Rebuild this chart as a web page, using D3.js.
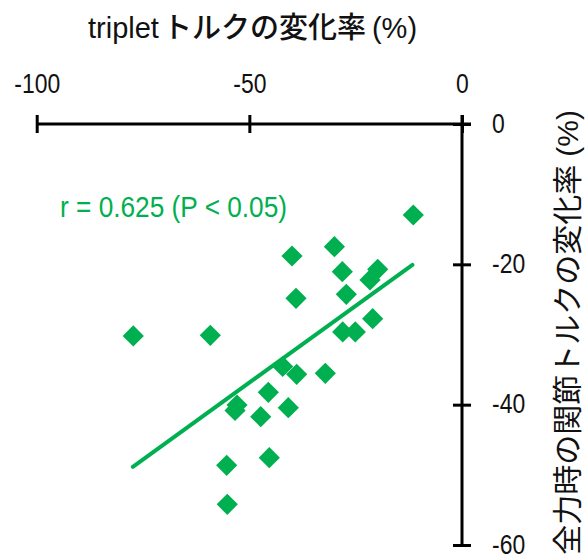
<!DOCTYPE html>
<html>
<head>
<meta charset="utf-8">
<script src="https://cdn.jsdelivr.net/npm/d3@7"></script>
<style>
  html, body { margin: 0; padding: 0; background: #fff; }
  svg { display: block; }
  .num { font-family: "Liberation Sans", Arial, sans-serif; }
  .jp { font-family: "Noto Sans CJK JP", sans-serif; }
</style>
</head>
<body>
<svg id="chart" width="585" height="558"></svg>
<script>
// triplet torque change (x, %) vs. joint torque change at full effort (y, %)
const tripletChange = [
  -11.45, -30.0, -39.97, -28.14, -19.82, -21.63, -39.03, -27.2,
  -77.29, -59.18, -21.0, -28.05, -25.09, -42.16, -38.87, -32.14,
  -45.54, -52.9, -53.37, -47.33, -40.84, -55.33, -45.31, -55.19
];
const jointChange = [
  -12.97, -17.49, -18.81, -21.05, -20.71, -22.23, -24.84, -24.27,
  -30.21, -30.11, -27.75, -29.64, -29.64, -34.56, -35.67, -35.53,
  -38.24, -40.05, -40.83, -41.71, -40.43, -48.64, -47.56, -54.2
];
// regression line endpoints
const trendX = [-77.4, -11.65];
const trendY = [-48.85, -20.08];

const xTicks = [-100, -50, 0];
const yTicks = [0, -20, -40, -60];
const annotation = "r = 0.625 (P < 0.05)";
const xTitleLatin = "triplet";
const xTitleJp = "トルクの変化率";
const yTitle = "全力時の関節トルクの変化率";

const green = "#00b050";
const narrow = 0.85;   // horizontal squeeze for the numeric labels
const svg = d3.select("#chart");

const x = d3.scaleLinear().domain([-100, 0]).range([36.7, 462]);
const y = d3.scaleLinear().domain([0, -60]).range([124, 545]);
const plain = d => String(d);

// top axis with ticks crossing the line
const xAxis = d3.axisTop(x).tickValues(xTicks).tickSize(0).tickPadding(0).tickFormat(plain);
const gx = svg.append("g").attr("transform", `translate(0,${y(0)})`).call(xAxis);
gx.attr("font-family", null).attr("font-size", null);
gx.select(".domain").attr("d", `M${x(-100)},0H${x(0) + 9}`).attr("stroke", "#000").attr("stroke-width", 3);
gx.selectAll(".tick line").attr("y1", -9).attr("y2", 9).attr("stroke", "#000").attr("stroke-width", 3);
gx.selectAll(".tick text")
  .attr("class", "num").attr("y", -31).attr("dy", 0)
  .attr("transform", `scale(${narrow},1)`)
  .attr("font-size", 27).attr("fill", "#111");

// right axis
const yAxis = d3.axisRight(y).tickValues(yTicks).tickSize(0).tickPadding(0).tickFormat(plain);
const gy = svg.append("g").attr("transform", `translate(${x(0)},0)`).call(yAxis);
gy.attr("font-family", null).attr("font-size", null);
gy.select(".domain").attr("d", `M0,${y(0) - 9}V${y(-60)}`).attr("stroke", "#000").attr("stroke-width", 3);
gy.selectAll(".tick line").attr("x1", -9).attr("x2", 9).attr("stroke", "#000").attr("stroke-width", 3);
gy.selectAll(".tick text")
  .attr("class", "num").attr("x", 30 / narrow).attr("dy", "0.3em")
  .attr("transform", `scale(${narrow},1)`)
  .attr("font-size", 27).attr("fill", "#111").attr("text-anchor", "start");

// x title
const tt = svg.append("text").attr("x", 88).attr("y", 38).attr("fill", "#111");
tt.append("tspan").attr("class", "num").attr("font-size", 29).text(xTitleLatin);
tt.append("tspan").attr("class", "jp").attr("font-size", 29).attr("font-weight", 500).attr("dx", 4).text(xTitleJp);
tt.append("tspan").attr("class", "num").attr("font-size", 29).attr("dx", 6).text("(%)");

// y title, rotated
const yt = svg.append("text")
  .attr("transform", `translate(578,110) rotate(-90)`)
  .attr("text-anchor", "end").attr("fill", "#111");
yt.append("tspan").attr("class", "jp").attr("font-size", 30).text(yTitle);
yt.append("tspan").attr("class", "num").attr("font-size", 30).attr("dx", 8).text("(%)");

// regression line
svg.append("line")
  .attr("x1", x(trendX[0])).attr("y1", y(trendY[0]))
  .attr("x2", x(trendX[1])).attr("y2", y(trendY[1]))
  .attr("stroke", green).attr("stroke-width", 4).attr("stroke-linecap", "round");

// diamond markers
const diamond = d3.symbol().type(d3.symbolSquare).size(225);
svg.append("g").selectAll("path")
  .data(tripletChange.map((v, i) => [v, jointChange[i]]))
  .join("path")
  .attr("d", diamond)
  .attr("transform", d => `translate(${x(d[0])},${y(d[1])}) rotate(45)`)
  .attr("fill", green);

// correlation note
const note = svg.append("g").attr("transform", "translate(60,217) scale(0.875,1)");
note.append("text").attr("class", "num")
  .attr("font-size", 30).attr("fill", green).text(annotation);
</script>
</body>
</html>
